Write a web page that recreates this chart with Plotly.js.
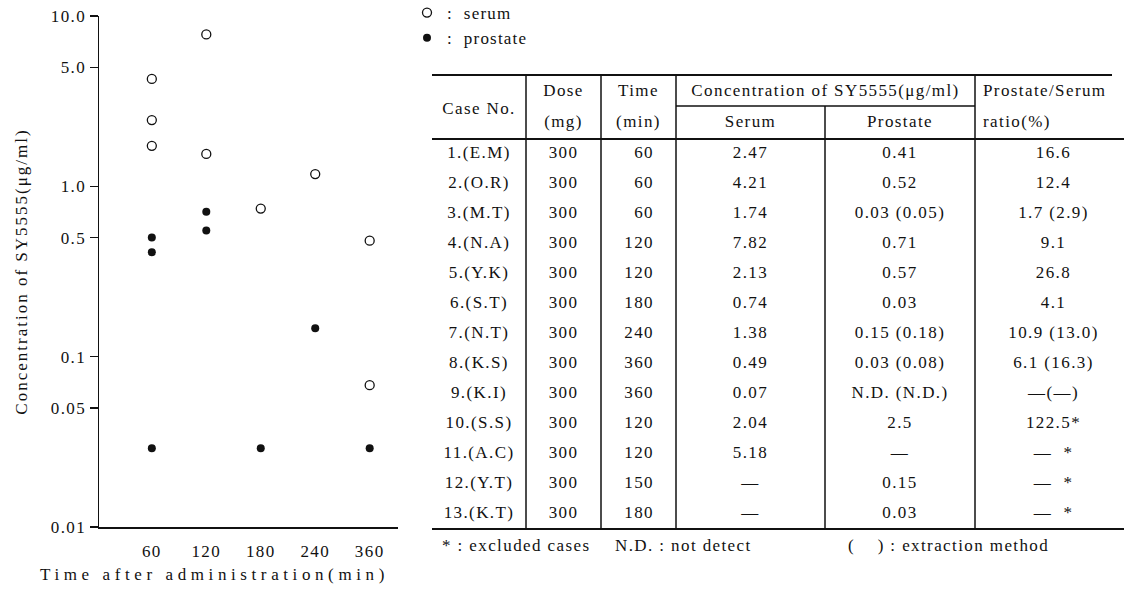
<!DOCTYPE html>
<html><head><meta charset="utf-8">
<script src="https://cdn.plot.ly/plotly-3.0.1.min.js"></script>
<style>
html,body{margin:0;padding:0;background:#fff;}
#chart text{letter-spacing:1.4px;}
#chart .annotation-text{letter-spacing:4.6px !important;}
#chart .ytitle{letter-spacing:2px !important;}
#chart .legendtext{letter-spacing:1.2px !important;}
</style></head><body>
<div id="chart" style="width:1127px;height:591px;"></div>
<script>
// ---- scatter data ----
const timeCats  = ["60","120","180","240","360"];
const serumTime = ["60","60","60","120","120","180","240","360","360"];
const serumConc = [4.27, 2.45, 1.73, 7.8, 1.55, 0.74, 1.18, 0.48, 0.068];
const prostTime = ["60","60","60","120","120","180","240","360"];
const prostConc = [0.50, 0.41, 0.029, 0.71, 0.55, 0.029, 0.147, 0.029];
const yTickVals = [10, 5, 1, 0.5, 0.1, 0.05, 0.01];
const yTickText = ["10.0","5.0","1.0","0.5","0.1","0.05","0.01"];
const xTitle = "Time after administration(min)";
const yTitle = "Concentration of SY5555(μg/ml)";
const legendNames = [":\u00a0\u00a0serum\u00a0\u00a0\u00a0\u00a0", ":\u00a0\u00a0prostate\u00a0\u00a0\u00a0\u00a0"];

// ---- table data ----
const caseNo   = ["1.(E.M)","2.(O.R)","3.(M.T)","4.(N.A)","5.(Y.K)","6.(S.T)","7.(N.T)","8.(K.S)","9.(K.I)","10.(S.S)","11.(A.C)","12.(Y.T)","13.(K.T)"];
const dose     = ["300","300","300","300","300","300","300","300","300","300","300","300","300"];
const timeMin  = ["60","60","60","120","120","180","240","360","360","120","120","150","180"];
const serumTbl = ["2.47","4.21","1.74","7.82","2.13","0.74","1.38","0.49","0.07","2.04","5.18","—","—"];
const prostTbl = ["0.41","0.52","0.03 (0.05)","0.71","0.57","0.03","0.15 (0.18)","0.03 (0.08)","N.D. (N.D.)","2.5","—","0.15","0.03"];
const ratioTbl = ["16.6","12.4","1.7 (2.9)","9.1","26.8","4.1","10.9 (13.0)","6.1 (16.3)","—(—)","122.5*","— \u00a0*","— \u00a0*","— \u00a0*"];
const headCase = "Case No.";
const headTop  = ["Dose","Time","Concentration of SY5555(μg/ml)","Prostate/Serum"];
const headSub  = ["(mg)","(min)","Serum","Prostate","ratio(%)"];
const footnotes = ["* : excluded cases","N.D. : not detect","(\u00a0\u00a0\u00a0\u00a0) : extraction method"];

// ---- layout geometry ----
const W = 1127, H = 591;
const fx = p => p / W, fy = p => 1 - p / H;
const FONT = "Liberation Serif";
const INK = "#111";
const colEdges = [0, 94, 169, 244, 393, 543, 692];   // table column edges (table units)
const mid = i => (colEdges[i] + colEdges[i + 1]) / 2;
const hdrTop = -2.133, hdrSub = -1.1, hdr1 = -1.567, hdr2 = -0.533, hdrCase = -0.967, footY = 13.6;
const nRows = caseNo.length;
const rowY = caseNo.map((_, i) => i + 0.5);
const rep = (v) => caseNo.map(() => v);

function txt(x, y, text, pos) {
  return {type: "scatter", mode: "text", xaxis: "x2", yaxis: "y2", x: x, y: y, text: text,
    textposition: pos || "middle center", textfont: {family: FONT, size: 17, color: INK},
    hoverinfo: "skip", showlegend: false, cliponaxis: false};
}

const traces = [
  {type: "scatter", mode: "markers", name: legendNames[0], x: serumTime, y: serumConc,
   marker: {symbol: "circle-open", size: 9, color: INK, line: {width: 1.3, color: INK}},
   legendgroup: "a", cliponaxis: false},
  {type: "scatter", mode: "markers", name: legendNames[1], x: prostTime, y: prostConc,
   marker: {symbol: "circle", size: 8, color: INK}, legendgroup: "b", cliponaxis: false},
  txt(rep(mid(0)), rowY, caseNo),
  txt(rep(mid(1)), rowY, dose),
  txt(rep(colEdges[3] - 22), rowY, timeMin, "middle left"),
  txt(rep(mid(3)), rowY, serumTbl),
  txt(rep(mid(4)), rowY, prostTbl),
  txt(rep(mid(5) + 4), rowY, ratioTbl),
  txt([mid(0)], [hdrCase], [headCase]),
  txt([mid(1), mid(2), (colEdges[3] + colEdges[5]) / 2], [hdr1, hdr1, hdr1], headTop.slice(0, 3)),
  txt([colEdges[5] + 8], [hdr1], [headTop[3]], "middle right"),
  txt([mid(1), mid(2), mid(3), mid(4)], [hdr2, hdr2, hdr2, hdr2], headSub.slice(0, 4)),
  txt([colEdges[5] + 8], [hdr2], [headSub[4]], "middle right"),
  txt([10, 183, 416], [footY, footY, footY], footnotes, "middle right")
];

const line = (x0, y0, x1, y1, w) => ({type: "line", xref: "x2", yref: "y2", x0, y0, x1, y1,
  line: {color: INK, width: w || 1.5}});
const tEnd = colEdges[colEdges.length - 1];
const shapes = [
  line(0, hdrTop, tEnd - 12, hdrTop, 2),
  line(colEdges[3], hdrSub, colEdges[5], hdrSub, 1.5),
  line(0, 0, tEnd, 0, 1.8),
  line(0, nRows, tEnd, nRows, 2),
  line(colEdges[1], hdrTop, colEdges[1], nRows),
  line(colEdges[2], hdrTop, colEdges[2], nRows),
  line(colEdges[3], hdrTop, colEdges[3], nRows),
  line(colEdges[4], hdrSub, colEdges[4], nRows),
  line(colEdges[5], hdrTop, colEdges[5], nRows)
];

const layout = {
  width: W, height: H, margin: {l: 0, r: 0, t: 0, b: 0, autoexpand: false},
  paper_bgcolor: "#fff", plot_bgcolor: "rgba(0,0,0,0)",
  font: {family: FONT, size: 17, color: INK},
  xaxis: {domain: [fx(99), fx(398)], type: "category", categoryorder: "array", categoryarray: timeCats,
    range: [-0.97, 4.52], showline: true, linecolor: INK, linewidth: 1.5, showgrid: false, zeroline: false,
    ticks: "", ticklabelstandoff: 8, tickfont: {family: FONT, size: 17, color: INK},
    fixedrange: true},
  yaxis: {domain: [fy(527), fy(16)], type: "log", range: [-2, 1], tickvals: yTickVals, ticktext: yTickText,
    showline: true, linecolor: INK, linewidth: 1.5, showgrid: false, zeroline: false,
    ticks: "outside", ticklen: 8, tickwidth: 1.5, tickcolor: INK, tickfont: {family: FONT, size: 17, color: INK},
    title: {text: yTitle, font: {family: FONT, size: 17, color: INK}, standoff: 24},
    fixedrange: true},
  xaxis2: {domain: [fx(432), fx(1124)], range: [0, tEnd], visible: false, fixedrange: true},
  yaxis2: {domain: [fy(565), fy(70)], range: [(565 - 139) / 30, (70 - 139) / 30], visible: false, fixedrange: true},
  shapes: shapes,
  annotations: [{text: xTitle, xref: "paper", yref: "paper", x: fx(214), y: fy(574), xanchor: "center", yanchor: "middle",
    showarrow: false, font: {family: FONT, size: 17, color: INK}}],
  showlegend: true,
  legend: {x: fx(407), y: fy(-5), xanchor: "left", yanchor: "top", bgcolor: "rgba(0,0,0,0)",
    font: {family: FONT, size: 17, color: INK}, traceorder: "grouped", tracegroupgap: 0}
};

Plotly.newPlot("chart", traces, layout, {displayModeBar: false, staticPlot: true});
</script>
</body></html>
